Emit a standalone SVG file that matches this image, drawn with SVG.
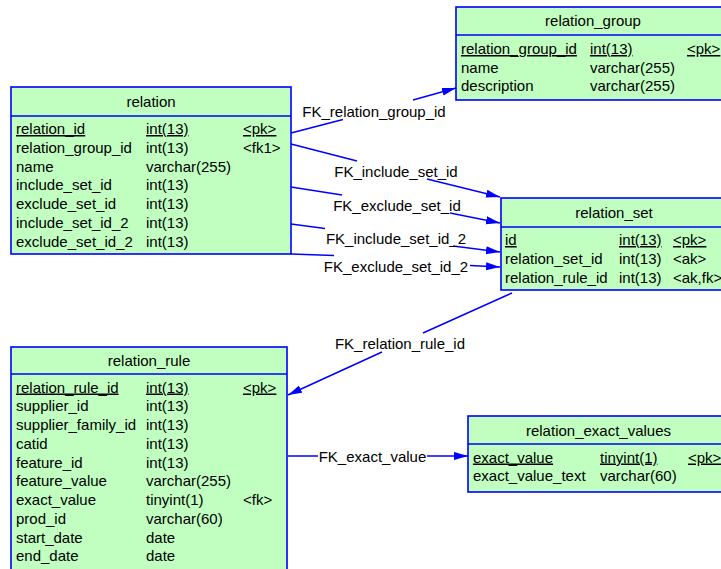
<svg xmlns="http://www.w3.org/2000/svg" width="721" height="569" viewBox="0 0 721 569">
<style>
text{font-family:"Liberation Sans",Arial,sans-serif;font-size:15px;fill:#000}
.h{text-anchor:middle}
.u{text-decoration:underline}
.box{fill:#c0ffc0;stroke:#0000ff;stroke-width:1.6}
.div{stroke:#0000ff;stroke-width:1.6}
.c{stroke:#0000ff;stroke-width:1.5;fill:none}
.lbl{text-anchor:middle}
</style>
<defs>
<marker id="arr" markerUnits="userSpaceOnUse" markerWidth="16" markerHeight="10" refX="14" refY="4" orient="auto">
<path d="M0,0 L14,4 L0,8 z" fill="#0000ff"/>
</marker>
</defs>
<rect width="721" height="569" fill="#ffffff"/>

<g id="connectors">
<g id="fk_relation_group_id">
<line class="c" x1="291" y1="133" x2="343" y2="119.5"/>
<line class="c" x1="413" y1="100" x2="456" y2="88" marker-end="url(#arr)"/>
<text class="lbl" x="374" y="117">FK_relation_group_id</text>
</g>
<g id="fk_include_set_id">
<line class="c" x1="291" y1="144" x2="357" y2="161"/>
<line class="c" x1="427" y1="179" x2="500" y2="197" marker-end="url(#arr)"/>
<text class="lbl" x="396" y="177">FK_include_set_id</text>
</g>
<g id="fk_exclude_set_id">
<line class="c" x1="291" y1="187" x2="342" y2="195"/>
<line class="c" x1="450" y1="213" x2="500" y2="223" marker-end="url(#arr)"/>
<text class="lbl" x="397" y="211">FK_exclude_set_id</text>
</g>
<g id="fk_include_set_id_2">
<line class="c" x1="291" y1="224" x2="325" y2="228.5"/>
<line class="c" x1="453" y1="246" x2="500" y2="252" marker-end="url(#arr)"/>
<text class="lbl" x="396" y="244">FK_include_set_id_2</text>
</g>
<g id="fk_exclude_set_id_2">
<line class="c" x1="291" y1="254" x2="334" y2="255.5"/>
<line class="c" x1="470" y1="265.5" x2="500" y2="267" marker-end="url(#arr)"/>
<text class="lbl" x="396" y="272">FK_exclude_set_id_2</text>
</g>
<g id="fk_relation_rule_id">
<line class="c" x1="512" y1="293" x2="423" y2="333"/>
<line class="c" x1="382" y1="352" x2="288" y2="395" marker-end="url(#arr)"/>
<text class="lbl" x="400" y="349">FK_relation_rule_id</text>
</g>
<g id="fk_exact_value">
<line class="c" x1="288" y1="456" x2="318" y2="456"/>
<line class="c" x1="427" y1="456" x2="468" y2="456" marker-end="url(#arr)"/>
<text class="lbl" x="372.5" y="462">FK_exact_value</text>
</g>
</g>

<g id="relation_group">
<rect class="box" x="456" y="7" width="274" height="93"/>
<line class="div" x1="456" y1="35" x2="730" y2="35"/>
<text class="h" x="593" y="26">relation_group</text>
<text class="u" x="461" y="54">relation_group_id</text><text class="u" x="590" y="54">int(13)</text><text class="u" x="687" y="54">&lt;pk&gt;</text>
<text x="461" y="72.5">name</text><text x="590" y="72.5">varchar(255)</text>
<text x="461" y="91">description</text><text x="590" y="91">varchar(255)</text>
</g>

<g id="relation">
<rect class="box" x="11" y="87" width="280" height="167"/>
<line class="div" x1="11" y1="116" x2="291" y2="116"/>
<text class="h" x="151" y="107">relation</text>
<text class="u" x="16" y="134">relation_id</text><text class="u" x="146" y="134">int(13)</text><text class="u" x="243" y="134">&lt;pk&gt;</text>
<text x="16" y="152.8">relation_group_id</text><text x="146" y="152.8">int(13)</text><text x="243" y="152.8">&lt;fk1&gt;</text>
<text x="16" y="171.5">name</text><text x="146" y="171.5">varchar(255)</text>
<text x="16" y="190.3">include_set_id</text><text x="146" y="190.3">int(13)</text>
<text x="16" y="209">exclude_set_id</text><text x="146" y="209">int(13)</text>
<text x="16" y="227.8">include_set_id_2</text><text x="146" y="227.8">int(13)</text>
<text x="16" y="246.5">exclude_set_id_2</text><text x="146" y="246.5">int(13)</text>
</g>

<g id="relation_set">
<rect class="box" x="501" y="198" width="228" height="92"/>
<line class="div" x1="501" y1="227" x2="729" y2="227"/>
<text class="h" x="614" y="218">relation_set</text>
<text class="u" x="505" y="245">id</text><text class="u" x="619" y="245">int(13)</text><text class="u" x="673" y="245">&lt;pk&gt;</text>
<text x="505" y="263.8">relation_set_id</text><text x="619" y="263.8">int(13)</text><text x="673" y="263.8">&lt;ak&gt;</text>
<text x="505" y="282.5">relation_rule_id</text><text x="619" y="282.5">int(13)</text><text x="673" y="282.5">&lt;ak,fk&gt;</text>
</g>

<g id="relation_rule">
<rect class="box" x="11" y="347" width="276" height="232"/>
<line class="div" x1="11" y1="374" x2="287" y2="374"/>
<text class="h" x="149" y="366">relation_rule</text>
<text class="u" x="16" y="392.5">relation_rule_id</text><text class="u" x="146" y="392.5">int(13)</text><text class="u" x="243" y="392.5">&lt;pk&gt;</text>
<text x="16" y="411.3">supplier_id</text><text x="146" y="411.3">int(13)</text>
<text x="16" y="430">supplier_family_id</text><text x="146" y="430">int(13)</text>
<text x="16" y="448.8">catid</text><text x="146" y="448.8">int(13)</text>
<text x="16" y="467.5">feature_id</text><text x="146" y="467.5">int(13)</text>
<text x="16" y="486.3">feature_value</text><text x="146" y="486.3">varchar(255)</text>
<text x="16" y="505">exact_value</text><text x="146" y="505">tinyint(1)</text><text x="243" y="505">&lt;fk&gt;</text>
<text x="16" y="523.8">prod_id</text><text x="146" y="523.8">varchar(60)</text>
<text x="16" y="542.5">start_date</text><text x="146" y="542.5">date</text>
<text x="16" y="561.3">end_date</text><text x="146" y="561.3">date</text>
</g>

<g id="relation_exact_values">
<rect class="box" x="468" y="416" width="261" height="76"/>
<line class="div" x1="468" y1="444" x2="729" y2="444"/>
<text class="h" x="598.5" y="436">relation_exact_values</text>
<text class="u" x="473" y="462.5">exact_value</text><text class="u" x="600" y="462.5">tinyint(1)</text><text class="u" x="688" y="462.5">&lt;pk&gt;</text>
<text x="473" y="481">exact_value_text</text><text x="600" y="481">varchar(60)</text>
</g>
</svg>
